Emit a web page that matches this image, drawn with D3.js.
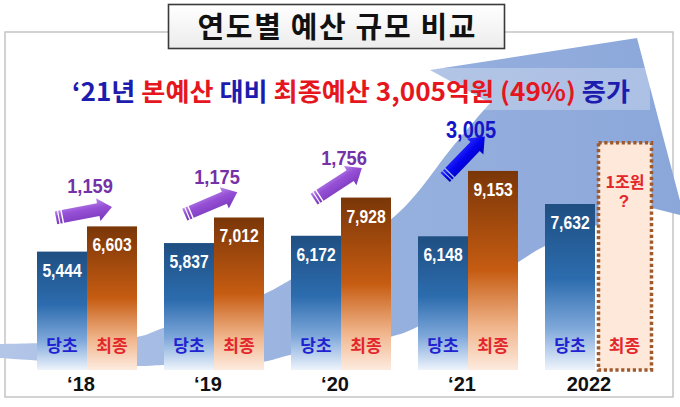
<!DOCTYPE html>
<html><head><meta charset="utf-8">
<script src="https://cdn.jsdelivr.net/npm/d3@7"></script>
<style>html,body{margin:0;padding:0;background:#fff;} svg{display:block}</style>
</head><body><svg id="c" width="680" height="407"></svg>
<script>
// ---------- data ----------
const years = ["‘18", "‘19", "‘20", "‘21", "2022"];
const initialBudget = [5444, 5837, 6172, 6148, 7632];   // 당초
const finalBudget = [6603, 7012, 7928, 9153, null];      // 최종
const increase = [1159, 1175, 1756, 3005, null];          // 최종 - 당초
const seriesNames = ["당초", "최종"];
const target2022Value = 10450;                            // dashed "1조원 ?" box
const target2022Label = ["1조원", "?"];
const titleText = "연도별 예산 규모 비교";
const subtitleParts = [
  { t: "‘21년 ", c: "blue" }, { t: "본예산 ", c: "red" }, { t: "대비 ", c: "blue" },
  { t: "최종예산 3,005억원 (49%) ", c: "red" }, { t: "증가", c: "blue" }
];

// ---------- setup ----------
const svg = d3.select("#c");
const KR = "'Noto Sans CJK KR','Noto Sans',sans-serif";
const NUM = "'Liberation Sans Narrow','Liberation Sans',Arial,sans-serif";
const COL = { blue: "#1c1cae", red: "#e5161d", sblue: "#1f22d0", sred: "#e3262b", purple: "#7431a8", vblue: "#1515c8" };

const x0 = d3.scaleBand().domain(years).range([37, 645]).paddingInner(27 / 127).paddingOuter(0);
const x1 = d3.scaleBand().domain(seriesNames).range([0, x0.bandwidth()]).padding(0);
const y = d3.scaleLinear().domain([0, 10000]).range([370, 152.5]);

const defs = svg.append("defs");
function vgrad(id, stops) {
  const g = defs.append("linearGradient").attr("id", id).attr("x1", 0).attr("y1", 0).attr("x2", 0).attr("y2", 1);
  stops.forEach(s => g.append("stop").attr("offset", s[0]).attr("stop-color", s[1]));
}
vgrad("gBlue", [[0, "#1f4f82"], [0.45, "#2c6cae"], [0.75, "#7fa8da"], [1, "#eef4fc"]]);
vgrad("gOrange", [[0, "#7a3608"], [0.5, "#c65c12"], [0.78, "#f0b48a"], [1, "#fdebdf"]]);
vgrad("gPurple", [[0, "#b98ae8"], [0.4, "#9650d6"], [1, "#7a38bc"]]);
vgrad("gArrowBlue", [[0, "#3030ff"], [0.5, "#0505ee"], [1, "#0000b8"]]);
vgrad("gTitle", [[0, "#ffffff"], [1, "#ececec"]]);
const sg = defs.append("linearGradient").attr("id", "gSwoosh").attr("x1", 0).attr("y1", 0).attr("x2", 1).attr("y2", 0);
[[0, "#b3c6e8"], [0.4, "#9bb4e0"], [1, "#8ba7da"]].forEach(s => sg.append("stop").attr("offset", s[0]).attr("stop-color", s[1]));

// frame
svg.append("rect").attr("x", 5).attr("y", 32).attr("width", 668).attr("height", 365)
  .attr("fill", "none").attr("stroke", "#c4c4c4").attr("stroke-width", 1.5);

// swoosh (decorative background arrow)
const upperEdge = [[0,344],[137,337],[163,328],[262,295],[290,280],[390,220],[417,193],[450,150],[490,103]];
const headPts = [[430,70],[637,38],[684,216],[652,208]];
const lowerEdge = [[652,208],[600,224],[543,247],[517,263],[417,327],[390,337],[290,355],[262,362],[163,365],[137,366],[0,358]];
const cr = d3.line().curve(d3.curveCatmullRom.alpha(0.5));
const dPath = cr(upperEdge) + headPts.map(p => "L" + p[0] + "," + p[1]).join("") + cr(lowerEdge).replace(/^M/, "L") + "Z";
svg.append("path").attr("d", dPath).attr("fill", "url(#gSwoosh)");

// subtitle band
svg.append("rect").attr("x", 60).attr("y", 68).attr("width", 590).attr("height", 42)
  .attr("fill", "#ffffff").attr("opacity", 0.28);

// subtitle
const sub = svg.append("text").attr("x", 351).attr("y", 101).attr("text-anchor", "middle")
  .attr("font-family", KR).attr("font-weight", 700).attr("font-size", 25)
  .attr("textLength", 558).attr("lengthAdjust", "spacingAndGlyphs");
subtitleParts.forEach(p => sub.append("tspan").text(p.t).attr("fill", COL[p.c]));

// bars
const rows = years.map((yr, i) => ({ yr, i, init: initialBudget[i], fin: finalBudget[i], inc: increase[i] }));
const g = svg.append("g");
rows.forEach(r => {
  const gx = x0(r.yr);
  g.append("rect").attr("x", gx + x1("당초")).attr("y", y(r.init)).attr("width", x1.bandwidth())
    .attr("height", y(0) - y(r.init)).attr("fill", "url(#gBlue)");
  if (r.fin != null) {
    g.append("rect").attr("x", gx + x1("최종")).attr("y", y(r.fin)).attr("width", x1.bandwidth())
      .attr("height", y(0) - y(r.fin)).attr("fill", "url(#gOrange)");
  }
});

// 2022 dashed target box
{
  const gx = x0("2022") + x1("최종");
  g.append("rect").attr("x", gx + 3.5).attr("y", y(target2022Value)).attr("width", x1.bandwidth() + 3)
    .attr("height", y(0) - y(target2022Value)).attr("fill", "#fde8da")
    .attr("stroke", "#9e5a2c").attr("stroke-width", 3.5).attr("stroke-dasharray", "3.2 2.6");
  const cx = gx + 3.5 + (x1.bandwidth() + 3) / 2;
  g.append("text").attr("x", cx).attr("y", y(target2022Value) + 45).attr("text-anchor", "middle")
    .attr("font-family", KR).attr("font-weight", 700).attr("font-size", 16).attr("fill", COL.sred).text(target2022Label[0]);
  g.append("text").attr("x", cx - 1).attr("y", y(target2022Value) + 64).attr("text-anchor", "middle")
    .attr("font-family", NUM).attr("font-weight", 700).attr("font-size", 17).attr("fill", COL.sred).text(target2022Label[1]);
}

// condensed numeric label helper
function numLabel(parent, cx, by, txt, size, fill) {
  parent.append("g").attr("transform", `translate(${cx},${by}) scale(0.87,1)`)
    .append("text").attr("text-anchor", "middle").attr("font-family", NUM).attr("font-weight", 700)
    .attr("font-size", size).attr("fill", fill).text(txt);
}
const fmt = d3.format(",");
rows.forEach(r => {
  const gx = x0(r.yr);
  const cb = gx + x1("당초") + x1.bandwidth() / 2;
  const co = gx + x1("최종") + x1.bandwidth() / 2;
  numLabel(g, cb, y(r.init) + 25, fmt(r.init), 18, "#ffffff");
  if (r.fin != null) numLabel(g, co, y(r.fin) + 25, fmt(r.fin), 18, "#ffffff");
  g.append("text").attr("x", cb).attr("y", 352).attr("text-anchor", "middle").attr("font-family", KR)
    .attr("font-weight", 700).attr("font-size", 17).attr("fill", COL.sblue).text(seriesNames[0]);
  const cf = r.fin != null ? co : co + 4.5;
  g.append("text").attr("x", cf).attr("y", 352).attr("text-anchor", "middle").attr("font-family", KR)
    .attr("font-weight", 700).attr("font-size", 17).attr("fill", COL.sred).text(seriesNames[1]);
  g.append("text").attr("x", gx + x0.bandwidth() / 2 - 6).attr("y", 391).attr("text-anchor", "middle")
    .attr("font-family", "'Liberation Sans',Arial,sans-serif").attr("font-weight", 700).attr("font-size", 20)
    .attr("fill", "#111").text(r.yr);
});

// increase arrows
const arrowTilt = [11, 23, 33, 46];
rows.filter(r => r.inc != null).forEach(r => {
  const gc = x0(r.yr) + x0.bandwidth() / 2;
  const cx = gc - 3, cy = y(r.fin) - 14;
  const last = r.i === 3;
  const fill = last ? "url(#gArrowBlue)" : "url(#gPurple)";
  const L = 57, h = L / 2, t = 6.5, hw = 11.5, hl = 14;
  const a = g.append("g").attr("transform", `translate(${cx},${cy}) rotate(${-arrowTilt[r.i]})`);
  a.append("path").attr("d", `M${-h + 7},${-t}L${h - hl},${-t}L${h - hl},${-hw}L${h},0L${h - hl},${hw}L${h - hl},${t}L${-h + 7},${t}Z`).attr("fill", fill);
  a.append("rect").attr("x", -h).attr("y", -t).attr("width", 2.2).attr("height", 2 * t).attr("fill", fill);
  a.append("rect").attr("x", -h + 3.4).attr("y", -t).attr("width", 2.2).attr("height", 2 * t).attr("fill", fill);
  numLabel(g, gc + 3, y(r.fin) - 33, fmt(r.inc), last ? 23 : 21, last ? COL.vblue : COL.purple);
});

// title box
svg.append("rect").attr("x", 168.5).attr("y", 4.5).attr("width", 336).attr("height", 44)
  .attr("fill", "url(#gTitle)").attr("stroke", "#3a3a3a").attr("stroke-width", 1.6);
svg.append("text").attr("x", 336.5).attr("y", 38).attr("text-anchor", "middle")
  .attr("font-family", KR).attr("font-weight", 700).attr("font-size", 29)
  .attr("textLength", 278).attr("lengthAdjust", "spacing").attr("fill", "#111").text(titleText);
</script></body></html>
